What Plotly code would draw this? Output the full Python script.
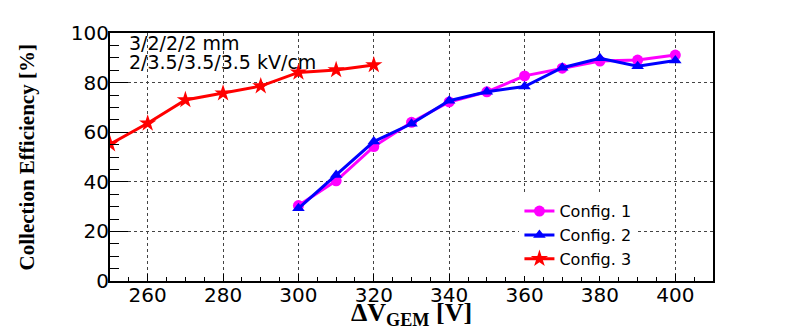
import plotly.graph_objects as go

# ===== Data =====
volt_12 = [300, 310, 320, 330, 340, 350, 360, 370, 380, 390, 400]
eff_cfg1 = [30.4, 40.4, 54.2, 64.0, 72.2, 76.3, 82.7, 85.8, 88.7, 89.1, 91.1]
eff_cfg2 = [29.3, 42.7, 56.2, 63.4, 72.7, 76.3, 78.4, 86.0, 89.8, 86.6, 88.9]

volt_3 = [250, 260, 270, 280, 290, 300, 310, 320]
eff_cfg3 = [55.2, 63.6, 73.0, 75.7, 78.6, 84.1, 85.1, 87.1]

labels = ['Config. 1', 'Config. 2', 'Config. 3']
notes = ['3/2/2/2 mm', '2/3.5/3.5/3.5 kV/cm']
x_title = '<b>ΔV<sub>GEM</sub> [V]</b>'
y_title = '<b>Collection Efficiency [%]</b>'

# ===== Figure =====
fig = go.Figure()
fig.add_trace(go.Scatter(x=volt_12, y=eff_cfg1, name=labels[0], mode='lines+markers',
                         line=dict(color='#ff00ff', width=3),
                         marker=dict(symbol='circle', size=11, color='#ff00ff')))
fig.add_trace(go.Scatter(x=volt_12, y=eff_cfg2, name=labels[1], mode='lines+markers',
                         line=dict(color='#0000ff', width=3),
                         marker=dict(symbol='triangle-up', size=11, color='#0000ff')))
fig.add_trace(go.Scatter(x=volt_3, y=eff_cfg3, name=labels[2], mode='lines+markers',
                         line=dict(color='#ff0000', width=3),
                         marker=dict(symbol='star', size=13, color='#ff0000')))

tick_font = dict(family='DejaVu Sans', size=20, color='black')
axis_common = dict(ticks='inside', tickwidth=1, tickcolor='black', showline=True,
                   linecolor='black', linewidth=2, mirror=True, showgrid=True,
                   gridcolor='#444', gridwidth=1, griddash='dot', zeroline=False,
                   tickfont=tick_font, automargin=False)

fig.update_xaxes(range=[250, 410], dtick=20, tick0=260, ticklen=7, ticklabelstandoff=-5,
                 minor=dict(dtick=5, ticklen=4, tickcolor='black', ticks='inside', showgrid=False),
                 **axis_common)
fig.update_yaxes(range=[0, 100], dtick=20, ticklen=18, ticklabelstandoff=-5,
                 minor=dict(dtick=5, ticklen=9, tickcolor='black', ticks='inside', showgrid=False),
                 **axis_common)

# axis titles (ROOT style, bold serif)
fig.add_annotation(text=x_title, xref='paper', yref='paper', x=0.5, y=-0.135,
                   xanchor='center', yanchor='middle', showarrow=False,
                   font=dict(family='Liberation Serif', size=26, color='black'))
fig.add_annotation(text=y_title, xref='paper', yref='paper', x=-0.137, y=0.5,
                   xanchor='center', yanchor='middle', showarrow=False, textangle=-90,
                   font=dict(family='Liberation Serif', size=21, color='black'))

for i, txt in enumerate(notes):
    fig.add_annotation(text=txt, xref='paper', yref='paper', x=0.028, y=0.96 - i * 0.078,
                       xanchor='left', yanchor='middle', showarrow=False,
                       font=dict(family='DejaVu Sans', size=19, color='black'))

# page body has an 8px margin, so the figure is sized/offset to land the plot box in place
fig.update_layout(
    width=785, height=319,
    margin=dict(l=102, r=80, t=25, b=46),
    plot_bgcolor='white', paper_bgcolor='white',
    showlegend=True,
    legend=dict(x=0.679, y=0.35, xanchor='left', yanchor='top', bgcolor='white',
                font=dict(family='DejaVu Sans', size=16, color='black'),
                tracegroupgap=0, itemwidth=30, entrywidth=140),
)

fig.write_html("out.html")
